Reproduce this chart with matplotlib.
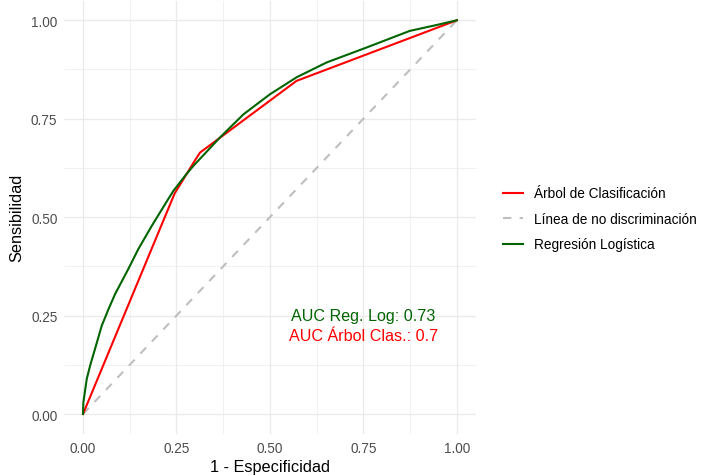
import matplotlib.pyplot as plt

# --- ROC DATA ---
arbol_fpr = [0.0, 0.245, 0.30, 0.313, 0.571, 1.0]
arbol_tpr = [0.0, 0.56, 0.645, 0.664, 0.846, 1.0]

reglog_fpr = [0.0, 0.001, 0.01, 0.019, 0.032, 0.05, 0.068, 0.086, 0.121, 0.148, 0.184,
              0.228, 0.242, 0.273, 0.295, 0.366, 0.429, 0.5, 0.571, 0.652, 0.759, 0.874,
              0.946, 1.0]
reglog_tpr = [0.0, 0.03, 0.089, 0.123, 0.165, 0.224, 0.266, 0.305, 0.368, 0.419, 0.478,
              0.546, 0.567, 0.605, 0.630, 0.702, 0.761, 0.812, 0.855, 0.893, 0.931, 0.973,
              0.988, 1.0]

diag = [0.0, 1.0]

ticks = [0.0, 0.25, 0.5, 0.75, 1.0]
tick_labels = ["0.00", "0.25", "0.50", "0.75", "1.00"]
minor_ticks = [0.125, 0.375, 0.625, 0.875]

auc_reglog = 0.73
auc_arbol = 0.7

plt.rcParams['font.family'] = ['Liberation Sans', 'DejaVu Sans']

fig = plt.figure(figsize=(7.03, 4.77), dpi=100)
ax = fig.add_axes([0.0915, 0.0887, 0.585, 0.908])

l_arbol, = ax.plot(arbol_fpr, arbol_tpr, color="#FF0000", lw=1.5, label="Árbol de Clasificación", zorder=3)
l_diag, = ax.plot(diag, diag, color="#BEBEBE", lw=1.5, linestyle=(0, (4, 4)),
                  label="Línea de no discriminación", zorder=2)
l_reg, = ax.plot(reglog_fpr, reglog_tpr, color="#006400", lw=1.5, label="Regresión Logística", zorder=4)

ax.text(0.75, 0.25, f"AUC Reg. Log: {auc_reglog}", color="#006400", fontsize=11.6,
        ha="center", va="center")
ax.text(0.75, 0.2, f"AUC Árbol Clas.: {auc_arbol}", color="#FF0000", fontsize=11.6,
        ha="center", va="center")

ax.set_xlim(-0.05, 1.05)
ax.set_ylim(-0.05, 1.05)
ax.set_xticks(ticks)
ax.set_xticklabels(tick_labels)
ax.set_yticks(ticks)
ax.set_yticklabels(tick_labels)
ax.set_xticks(minor_ticks, minor=True)
ax.set_yticks(minor_ticks, minor=True)
ax.grid(True, which="major", color="#EBEBEB", lw=1.0)
ax.grid(True, which="minor", color="#EBEBEB", lw=0.5)
ax.set_axisbelow(True)
ax.tick_params(which="both", length=0, labelsize=9.8, labelcolor="#4D4D4D", pad=5)
for s in ax.spines.values():
    s.set_visible(False)

ax.set_xlabel("1 - Especificidad", fontsize=11.7, labelpad=3)
ax.set_ylabel("Sensibilidad", fontsize=11.7, labelpad=5)

fig.legend(handles=[l_arbol, l_diag, l_reg], loc="center left", bbox_to_anchor=(0.7155, 0.539),
           frameon=False, fontsize=9.8, handlelength=1.5, handletextpad=0.75,
           labelspacing=0.85, borderpad=0, borderaxespad=0)

fig.savefig("out.png", dpi=100)
